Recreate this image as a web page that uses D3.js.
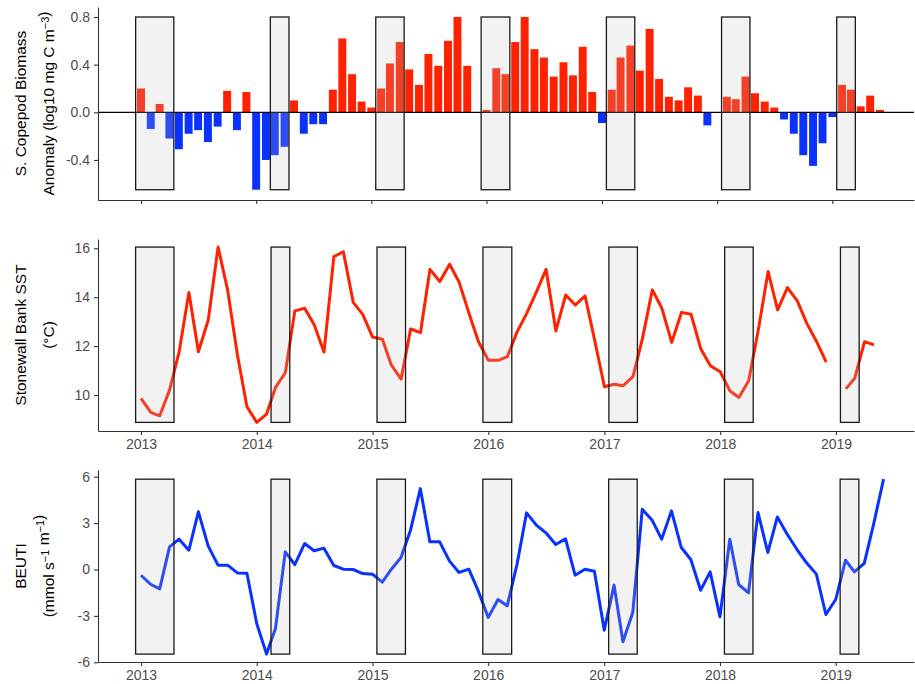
<!DOCTYPE html>
<html>
<head>
<meta charset="utf-8">
<script src="https://cdn.jsdelivr.net/npm/d3@7"></script>
<style>
  body { margin: 0; background: #fff; }
  svg { font-family: "Liberation Sans", Arial, sans-serif; }
</style>
</head>
<body>
<svg id="chart" width="915" height="684"></svg>
<script>
// monthly values starting Jan 2013, null = no data that month
const copepod = [
  0.20, -0.14, 0.07, -0.22, -0.31, -0.18, -0.15, -0.25, -0.12, 0.18, -0.15, 0.17,
  -0.65, -0.40, -0.36, -0.29, 0.10, -0.18, -0.10, -0.10, 0.19, 0.62, 0.32, 0.09,
  0.04, 0.20, 0.41, 0.59, 0.36, 0.23, 0.49, 0.39, 0.60, 0.80, 0.39, null,
  0.02, 0.37, 0.32, 0.59, 0.80, 0.53, 0.46, 0.30, 0.42, 0.31, 0.55, 0.17,
  -0.09, 0.19, 0.46, 0.56, 0.35, 0.70, 0.28, 0.13, 0.10, 0.21, 0.14, -0.11,
  null, 0.13, 0.11, 0.30, 0.16, 0.09, 0.04, -0.06, -0.18, -0.36, -0.45, -0.26,
  -0.04, 0.23, 0.19, 0.05, 0.14, 0.02
];

const sst = [
  9.86, 9.29, 9.15, 10.20, 11.75, 14.19, 11.77, 13.07, 16.05, 14.30, 11.64, 9.52,
  8.88, 9.22, 10.31, 10.91, 13.44, 13.55, 12.87, 11.75, 15.66, 15.86, 13.79, 13.30,
  12.37, 12.28, 11.23, 10.65, 12.70, 12.55, 15.14, 14.64, 15.35, 14.61, 13.34, 12.18,
  11.42, 11.42, 11.57, 12.59, 13.34, 14.23, 15.14, 12.62, 14.09, 13.68, 14.05, 12.25,
  10.34, 10.44, 10.38, 10.75, 12.32, 14.30, 13.55, 12.15, 13.38, 13.30, 11.88, 11.20,
  10.95, 10.16, 9.90, 10.59, 12.66, 15.05, 13.48, 14.39, 13.85, 12.93, 12.18, 11.34,
  null, 10.25, 10.68, 12.18, 12.05
];

const beuti = [
  -0.37, -0.97, -1.25, 1.46, 1.96, 1.25, 3.73, 1.51, 0.28, 0.28, -0.22, -0.24,
  -3.49, -5.47, -3.81, 1.14, 0.32, 1.68, 1.21, 1.38, 0.26, 0.02, 0.00, -0.26,
  -0.30, -0.82, 0.00, 0.78, 2.54, 5.23, 1.79, 1.79, 0.54, -0.19, 0.02, -1.40,
  -3.10, -1.94, -2.35, 0.34, 3.66, 2.87, 2.37, 1.62, 1.98, -0.37, 0.02, -0.11,
  -3.92, -1.01, -4.67, -2.78, 3.90, 3.19, 1.96, 3.79, 1.42, 0.65, -1.34, -0.15,
  -3.06, 1.96, -0.97, -1.51, 3.68, 1.10, 3.40, 2.28, 1.29, 0.43, -0.30, -2.91,
  -1.94, 0.60, -0.15, 0.39, 2.97, 5.84
];

// shaded periods
const periodStart = ["2012-12-15", "2014-02-15", "2015-01-15", "2015-12-15", "2017-01-15", "2018-01-15", "2019-01-15"];
const periodEnd   = ["2013-04-15", "2014-04-15", "2015-04-15", "2016-03-15", "2017-04-15", "2018-04-15", "2019-03-15"];

const yearTicks = [2013, 2014, 2015, 2016, 2017, 2018, 2019];
const copepodTicks = [-0.4, 0, 0.4, 0.8];
const sstTicks = [10, 12, 14, 16];
const beutiTicks = [-6, -3, 0, 3, 6];

const RED = "#ff2200", BLUE = "#0a32ff";
const left = 98, right = 914;

const parse = d3.utcParse("%Y-%m-%d");
const start = new Date(Date.UTC(2013, 0, 1));
const monthly = arr => arr.map((v, i) => ({ date: d3.utcMonth.offset(start, i), v }));
const periods = periodStart.map((s, i) => ({ x0: parse(s), x1: parse(periodEnd[i]) }));

const svg = d3.select("#chart");

// x scale pinned so 2013 and 2019 fall at the given pixels
function makeX(x2019) {
  const cal = d3.scaleUtc()
    .domain([new Date(Date.UTC(2013, 0, 1)), new Date(Date.UTC(2019, 0, 1))])
    .range([141, x2019]);
  return d3.scaleUtc().domain([cal.invert(left), cal.invert(right)]).range([left, right]);
}

function makeY(v1, p1, v2, p2, top, bottom) {
  const cal = d3.scaleLinear().domain([v1, v2]).range([p1, p2]);
  return d3.scaleLinear().domain([cal.invert(bottom), cal.invert(top)]).range([bottom, top]);
}

function styleAxis(g) {
  g.selectAll("path, line").attr("stroke", "#333").attr("stroke-width", 1.1);
  g.selectAll("text").attr("fill", "#4d4d4d").attr("font-size", 14);
}

function drawPanel(p) {
  const g = svg.append("g");
  const x = makeX(p.x2019);
  const y = makeY(p.ycal[0], p.ycal[1], p.ycal[2], p.ycal[3], p.top, p.bottom);

  p.draw(g, x, y);

  // shaded periods on top of the data
  const vals = p.data.filter(d => d.v != null).map(d => d.v);
  const lo = d3.min(vals), hi = d3.max(vals);
  g.selectAll(".period")
    .data(periods)
    .enter()
    .append("rect")
    .attr("x", d => x(d.x0))
    .attr("width", d => x(d.x1) - x(d.x0))
    .attr("y", y(hi))
    .attr("height", y(lo) - y(hi))
    .attr("fill", "rgb(190,190,190)")
    .attr("fill-opacity", 0.2)
    .attr("stroke", "#1a1a1a")
    .attr("stroke-width", 1.3);

  const xAxis = d3.axisBottom(x)
    .tickValues(yearTicks.map(yr => new Date(Date.UTC(yr, 0, 1))))
    .tickFormat(p.xLabels ? d3.utcFormat("%Y") : "")
    .tickSize(4).tickSizeOuter(0).tickPadding(4);
  g.append("g")
    .attr("transform", `translate(0,${p.bottom})`)
    .call(xAxis)
    .call(styleAxis);

  const yAxis = d3.axisLeft(y)
    .tickValues(p.yTicks)
    .tickFormat(p.fmt)
    .tickSize(4).tickSizeOuter(0).tickPadding(4);
  g.append("g")
    .attr("transform", `translate(${left},0)`)
    .call(yAxis)
    .call(styleAxis);

  // two-line axis title
  const cy = (p.top + p.bottom) / 2;
  p.title.forEach((parts, i) => {
    const t = g.append("text")
      .attr("transform", `translate(${i === 0 ? 25.5 : 54},${cy}) rotate(-90)`)
      .attr("text-anchor", "middle")
      .attr("font-size", 15.5)
      .attr("fill", "#000");
    parts.forEach(part => {
      if (typeof part === "string") {
        t.append("tspan").text(part);
      } else {
        t.append("tspan").attr("dy", "-0.45em").attr("font-size", 11).text(part.sup);
        t.append("tspan").attr("dy", "0.45em").text("");
      }
    });
  });
}

// S. copepod biomass anomaly bars
drawPanel({
  top: 7, bottom: 200, x2019: 832.3,
  ycal: [0, 112.3, 0.8, 17],
  yTicks: copepodTicks, fmt: d => d.toFixed(1),
  xLabels: false,
  data: monthly(copepod),
  title: [["S. Copepod Biomass"], ["Anomaly (log10 mg C m", { sup: "\u22123" }, ")"]],
  draw(g, x, y) {
    const half = 12.6 * 864e5;
    g.selectAll(".bar")
      .data(this.data.filter(d => d.v != null))
      .enter()
      .append("rect")
      .attr("x", d => x(new Date(+d.date - half)))
      .attr("width", d => x(new Date(+d.date + half)) - x(new Date(+d.date - half)))
      .attr("y", d => y(Math.max(0, d.v)))
      .attr("height", d => Math.abs(y(d.v) - y(0)))
      .attr("fill", d => d.v >= 0 ? RED : BLUE);
    g.append("line")
      .attr("x1", left).attr("x2", right)
      .attr("y1", y(0)).attr("y2", y(0))
      .attr("stroke", "#000").attr("stroke-width", 1.2);
  }
});

// Stonewall Bank SST
drawPanel({
  top: 239, bottom: 431, x2019: 836,
  ycal: [10, 395, 16, 248.3],
  yTicks: sstTicks, fmt: d => String(d),
  xLabels: true,
  data: monthly(sst),
  title: [["Stonewall Bank SST"], ["(\u00B0C)"]],
  draw(g, x, y) {
    const line = d3.line()
      .defined(d => d.v != null)
      .x(d => x(d.date))
      .y(d => y(d.v));
    g.append("path")
      .datum(this.data)
      .attr("d", line)
      .attr("fill", "none")
      .attr("stroke", RED)
      .attr("stroke-width", 3)
      .attr("stroke-linejoin", "round");
  }
});

// BEUTI upwelling index
drawPanel({
  top: 470, bottom: 662, x2019: 835.7,
  ycal: [-6, 662.3, 6, 476.7],
  yTicks: beutiTicks, fmt: d => String(d),
  xLabels: true,
  data: monthly(beuti),
  title: [["BEUTI"], ["(mmol s", { sup: "\u22121" }, " m", { sup: "\u22121" }, ")"]],
  draw(g, x, y) {
    const line = d3.line()
      .x(d => x(d.date))
      .y(d => y(d.v));
    g.append("path")
      .datum(this.data)
      .attr("d", line)
      .attr("fill", "none")
      .attr("stroke", BLUE)
      .attr("stroke-width", 3)
      .attr("stroke-linejoin", "round");
  }
});
</script>
</body>
</html>
